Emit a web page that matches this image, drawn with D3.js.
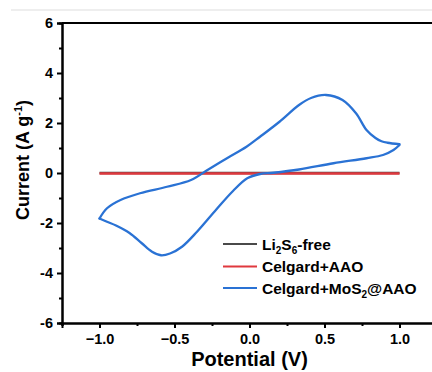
<!DOCTYPE html>
<html>
<head>
<meta charset="utf-8">
<script src="https://cdn.jsdelivr.net/npm/d3@7"></script>
<style>
	body { margin: 0; background: #fff; }
	text { font-family: "Liberation Sans", Arial, sans-serif; font-weight: bold; }
</style>
</head>
<body>
<svg id="chart" width="432" height="372"></svg>
<script>
// series names and colours
var seriesNames = ["Li2S6-free", "Celgard+AAO", "Celgard+MoS2@AAO"];
var seriesColors = ["#4a4a4a", "#e0393e", "#2a72d4"];

// flat baselines (potential, current)
var freeV = [-1.0, 1.0];
var freeI = [0.0, 0.0];
var aaoV = [-1.0, 1.0];
var aaoI = [-0.02, -0.02];

// MoS2@AAO loop, cathodic branch (-1.0 -> 1.0)
var lowerV = [-1.0, -0.95, -0.89, -0.8, -0.72, -0.65, -0.59, -0.53, -0.45, -0.35, -0.22, -0.11, -0.015, 0.07, 0.16, 0.33, 0.56, 0.78, 0.89, 0.96, 1.0];
var lowerI = [-1.82, -1.95, -2.1, -2.4, -2.8, -3.15, -3.29, -3.22, -2.95, -2.35, -1.45, -0.72, -0.21, -0.04, 0.01, 0.14, 0.39, 0.59, 0.72, 0.92, 1.12];
// anodic branch (1.0 -> -1.0)
var upperV = [1.0, 0.92, 0.88, 0.84, 0.78, 0.71, 0.62, 0.51, 0.41, 0.33, 0.2, 0.07, -0.02, -0.15, -0.28, -0.39, -0.55, -0.73, -0.86, -0.95, -1.0];
var upperI = [1.15, 1.21, 1.27, 1.4, 1.72, 2.39, 2.92, 3.12, 3.0, 2.72, 2.05, 1.45, 1.05, 0.59, 0.12, -0.28, -0.55, -0.81, -1.08, -1.41, -1.82];

var yTicks = [-6, -4, -2, 0, 2, 4, 6];
var xTicks = [-1.0, -0.5, 0.0, 0.5, 1.0];

var svg = d3.select("#chart");
var W = 432, H = 372;
var left = 62, bottom = 323;

var x = d3.scaleLinear().domain([-1.25, 1.3]).range([left, left + 2.55 * 150]);
var y = d3.scaleLinear().domain([-6, 6]).range([bottom, 23]);

// faint strip on top of the picture
svg.append("line")
	.attr("x1", 11).attr("x2", W)
	.attr("y1", 10).attr("y2", 10)
	.attr("stroke", "#eeeeee")
	.attr("stroke-width", 2);

function zip(a, b) {
	return a.map(function(v, i) { return [v, b[i]]; });
}

var line = d3.line()
	.x(function(d) { return x(d[0]); })
	.y(function(d) { return y(d[1]); })
	.curve(d3.curveCatmullRom.alpha(0.5));

var plot = svg.append("g");
plot.append("path")
	.attr("d", line(zip(freeV, freeI)))
	.attr("fill", "none").attr("stroke", seriesColors[0]).attr("stroke-width", 2.5);
plot.append("path")
	.attr("d", line(zip(aaoV, aaoI)))
	.attr("fill", "none").attr("stroke", seriesColors[1]).attr("stroke-width", 2.5);
[zip(lowerV, lowerI), zip(upperV, upperI)].forEach(function(pts) {
	plot.append("path")
		.attr("d", line(pts))
		.attr("fill", "none")
		.attr("stroke", seriesColors[2])
		.attr("stroke-width", 2.3)
		.attr("stroke-linejoin", "round")
		.attr("stroke-linecap", "round");
});

// axes
var yAxis = d3.axisLeft(y).tickValues(yTicks).tickSize(5).tickPadding(4)
	.tickFormat(function(d) { return d; });
var yMinor = d3.axisLeft(y).tickValues(d3.range(-5, 6, 2)).tickSize(3).tickFormat("");
var xAxis = d3.axisBottom(x).tickValues(xTicks).tickSize(5).tickPadding(6)
	.tickFormat(d3.format(".1f"));
var xMinor = d3.axisBottom(x).tickValues([-1.25, -0.75, -0.25, 0.25, 0.75, 1.25]).tickSize(3).tickFormat("");

function style(g) {
	g.select(".domain").attr("stroke", "#000").attr("stroke-width", 2);
	g.selectAll(".tick line").attr("stroke", "#000").attr("stroke-width", 2);
	g.selectAll("text")
		.attr("fill", "#000")
		.style("font-size", "14.5px")
		.style("font-family", "'Liberation Sans', Arial, sans-serif")
		.style("font-weight", "bold");
}

svg.append("g").attr("transform", "translate(" + left + ",0)").call(yMinor).call(style);
svg.append("g").attr("transform", "translate(" + left + ",0)").call(yAxis).call(style);
svg.append("g").attr("transform", "translate(0," + bottom + ")").call(xMinor).call(style);
svg.append("g").attr("transform", "translate(0," + bottom + ")").call(xAxis).call(style);

// top frame
svg.append("line")
	.attr("x1", left).attr("x2", W)
	.attr("y1", y(6)).attr("y2", y(6))
	.attr("stroke", "#000").attr("stroke-width", 2);

// axis titles
svg.append("text")
	.attr("x", x(0)).attr("y", 366)
	.attr("text-anchor", "middle")
	.style("font-size", "20px")
	.text("Potential (V)");

var yl = svg.append("text")
	.attr("transform", "translate(29,160) rotate(-90)")
	.attr("text-anchor", "middle")
	.style("font-size", "18px");
yl.append("tspan").text("Current (A g");
yl.append("tspan").attr("dy", -7).style("font-size", "11px").text("-1");
yl.append("tspan").attr("dy", 7).text(")");

// legend
var legendY = [244, 266.5, 288];
var legendLabels = [
	[["Li", 0], ["2", 1], ["S", 0], ["6", 1], ["-free", 0]],
	[["Celgard+AAO", 0]],
	[["Celgard+MoS", 0], ["2", 1], ["@AAO", 0]]
];
var legend = svg.append("g");
legendLabels.forEach(function(parts, i) {
	legend.append("line")
		.attr("x1", 223).attr("x2", 257)
		.attr("y1", legendY[i]).attr("y2", legendY[i])
		.attr("stroke", seriesColors[i]).attr("stroke-width", 2);
	var t = legend.append("text")
		.attr("x", 262).attr("y", legendY[i] + 5.5)
		.style("font-size", "15.5px");
	var prev = 0;
	parts.forEach(function(p) {
		var shift = p[1] ? 4 : 0;
		t.append("tspan")
			.attr("dy", shift - prev)
			.style("font-size", p[1] ? "10px" : "15.5px")
			.text(p[0]);
		prev = shift;
	});
});
</script>
</body>
</html>
